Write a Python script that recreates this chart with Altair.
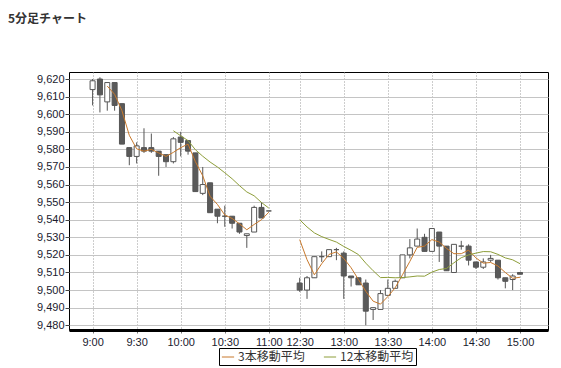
import altair as alt
import pandas as pd

# ---- data (5-minute candles) ----
times = ["9:00", "9:05", "9:10", "9:15", "9:20", "9:25", "9:30", "9:35", "9:40", "9:45",
         "9:50", "9:55", "10:00", "10:05", "10:10", "10:15", "10:20", "10:25", "10:30", "10:35",
         "10:40", "10:45", "10:50", "10:55", "11:00",
         "12:30", "12:35", "12:40", "12:45", "12:50", "12:55", "13:00", "13:05", "13:10", "13:15",
         "13:20", "13:25", "13:30", "13:35", "13:40", "13:45", "13:50", "13:55", "14:00", "14:05",
         "14:10", "14:15", "14:20", "14:25", "14:30", "14:35", "14:40", "14:45", "14:50", "14:55",
         "15:00"]

opens = [9614, 9620, 9607, 9618, 9606, 9581, 9576, 9581, 9581, 9579,
         9577, 9573, 9587, 9585, 9578, 9555, 9561, 9546, 9542, 9542,
         9538, 9531, 9533, 9547, 9545,
         9504, 9500, 9507, 9519, 9519, 9523, 9521, 9508, 9507, 9504,
         9489, 9489, 9497, 9501, 9507, 9520, 9525, 9530, 9522, 9533,
         9525, 9510, 9525, 9525, 9516, 9513, 9517, 9517, 9507, 9506,
         9510]
highs = [9620, 9621, 9618, 9618, 9606, 9581, 9584, 9592, 9589, 9579,
         9577, 9587, 9590, 9585, 9578, 9570, 9561, 9546, 9548, 9542,
         9538, 9532, 9548, 9550, 9545,
         9507, 9508, 9519, 9522, 9523, 9524, 9522, 9508, 9507, 9506,
         9490, 9500, 9506, 9506, 9520, 9529, 9535, 9532, 9535, 9533,
         9525, 9526, 9528, 9526, 9516, 9518, 9520, 9517, 9507, 9509,
         9510]
lows = [9605, 9601, 9602, 9602, 9583, 9571, 9572, 9578, 9578, 9565,
        9570, 9572, 9576, 9577, 9556, 9554, 9544, 9538, 9536, 9535,
        9532, 9524, 9533, 9541, 9545,
        9499, 9495, 9507, 9516, 9519, 9517, 9495, 9502, 9503, 9480,
        9483, 9489, 9497, 9501, 9507, 9518, 9525, 9522, 9522, 9516,
        9511, 9510, 9523, 9514, 9512, 9512, 9516, 9506, 9501, 9500,
        9509]
closes = [9619, 9611, 9618, 9605, 9583, 9576, 9582, 9579, 9579, 9576,
          9573, 9586, 9584, 9579, 9556, 9560, 9544, 9542, 9542, 9538,
          9533, 9532, 9547, 9541, 9545,
          9500, 9507, 9519, 9519, 9523, 9523, 9508, 9507, 9503, 9488,
          9490, 9498, 9501, 9505, 9520, 9524, 9529, 9522, 9535, 9525,
          9511, 9526, 9525, 9517, 9513, 9516, 9518, 9507, 9505, 9508,
          9509]

ma3 = [None, None, 9616.0, 9611.3, 9602.0, 9588.0, 9580.3, 9579.0, 9580.0, 9578.0,
       9576.0, 9578.3, 9581.0, 9583.0, 9573.0, 9565.0, 9553.3, 9548.7, 9542.7, 9540.7,
       9537.7, 9534.3, 9537.3, 9540.0, 9544.3,
       9528.7, 9517.3, 9508.7, 9515.0, 9520.3, 9521.7, 9518.0, 9512.7, 9506.0, 9499.3,
       9493.7, 9492.0, 9496.3, 9501.3, 9508.7, 9516.3, 9524.3, 9525.0, 9528.7, 9527.3,
       9523.7, 9520.7, 9520.7, 9522.7, 9518.3, 9515.3, 9515.7, 9513.7, 9510.0, 9506.7,
       9507.3]
ma12 = [None, None, None, None, None, None, None, None, None, None,
        None, 9590.6, 9587.7, 9585.0, 9579.8, 9576.1, 9572.8, 9570.0, 9566.7, 9563.3,
        9559.4, 9555.8, 9553.6, 9549.8, 9546.6,
        9540.0, 9535.9, 9532.5, 9530.4, 9528.8, 9527.3, 9524.8, 9522.6, 9520.2, 9515.3,
        9511.0, 9507.1, 9507.2, 9507.0, 9507.1, 9507.5, 9508.0, 9507.9, 9510.2, 9511.7,
        9512.3, 9515.5, 9518.4, 9520.0, 9521.0, 9521.9, 9521.8, 9520.3, 9518.3, 9517.2,
        9515.0]

tick_labels = ["9:00", "9:30", "10:00", "10:30", "11:00",
               "12:30", "13:00", "13:30", "14:00", "14:30", "15:00"]
y_ticks = [9480, 9490, 9500, 9510, 9520, 9530, 9540, 9550, 9560, 9570, 9580,
           9590, 9600, 9610, 9620]
series_names = ["3本移動平均", "12本移動平均"]
series_colors = ["#C8792C", "#8E9E3A"]

# ---- layout helpers (x position of each bar on a compressed time axis) ----
N_AM = 25
LUNCH_GAP = 3.2
pos = [i if i < N_AM else i + LUNCH_GAP for i in range(len(times))]
session = ["am" if i < N_AM else "pm" for i in range(len(times))]

candles = pd.DataFrame({
    "pos": pos, "time": times, "open": opens, "high": highs,
    "low": lows, "close": closes,
})

ma_rows = []
for name, vals in zip(series_names, [ma3, ma12]):
    for p, s, v in zip(pos, session, vals):
        if v is not None:
            ma_rows.append({"pos": p, "value": v, "series": name, "session": s})
ma_df = pd.DataFrame(ma_rows)

tick_pos = [pos[times.index(t)] for t in tick_labels]
label_expr = "''"
for p, t in reversed(list(zip(tick_pos, tick_labels))):
    label_expr = f"abs(datum.value - {p}) < 0.01 ? '{t}' : ({label_expr})"

x_scale = alt.Scale(domain=[-2.53, 61.33], nice=False, zero=False)
x_axis = alt.Axis(values=tick_pos, labelExpr=label_expr, title=None,
                  grid=True, gridDash=[1, 2], gridColor="#9a9a9a", gridWidth=1,
                  tickSize=3, tickColor="#777", domainColor="#000", domainWidth=3,
                  labelFontSize=11, labelFont="Liberation Sans", labelColor="#1a1a2e",
                  labelPadding=3, labelFlush=False, labelOverlap=False)
y_scale = alt.Scale(domain=[9477.3, 9624], nice=False, zero=False)
y_axis = alt.Axis(values=y_ticks, format=",d", title=None,
                  grid=True, gridColor="#c4c4c4", gridWidth=1, domain=False,
                  tickSize=4, tickColor="#444", labelFontSize=11,
                  labelFont="Liberation Sans", labelColor="#1a1a2e", labelPadding=1,
                  labelOverlap=False, labelFlush=False)

wicks = alt.Chart(candles).mark_rule(color="#555555", strokeWidth=1).encode(
    x=alt.X("pos:Q", scale=x_scale, axis=x_axis),
    y=alt.Y("low:Q", scale=y_scale, axis=y_axis),
    y2="high:Q",
)
bodies = alt.Chart(candles).mark_bar(size=5, stroke="#555555", strokeWidth=1).encode(
    x=alt.X("pos:Q", scale=x_scale, axis=x_axis),
    y=alt.Y("open:Q", scale=y_scale, axis=y_axis),
    y2="close:Q",
    fill=alt.condition("datum.close >= datum.open", alt.value("#ffffff"), alt.value("#5a5a5a")),
)
lines = alt.Chart(ma_df).mark_line(strokeWidth=1).encode(
    x=alt.X("pos:Q", scale=x_scale, axis=x_axis),
    y=alt.Y("value:Q", scale=y_scale, axis=y_axis),
    color=alt.Color("series:N",
                    scale=alt.Scale(domain=series_names, range=series_colors),
                    legend=alt.Legend(title=None, orient="none", legendX=150, legendY=276,
                                      direction="horizontal", strokeColor="#000",
                                      fillColor="#ffffff", padding=2,
                                      symbolType="stroke", symbolSize=150,
                                      symbolStrokeWidth=1, labelFontSize=12,
                                      labelFont="Noto Sans CJK JP", labelColor="#333",
                                      labelOffset=3, columnPadding=16)),
    detail="session:N",
)

chart = alt.layer(wicks, bodies, lines).properties(
    width=479, height=258,
    autosize=alt.AutoSizeParams(type="none"),
    padding={"left": 69, "top": 72, "right": 13, "bottom": 38},
    background="#ffffff",
    title=alt.TitleParams("5分足チャート", anchor="start", frame="group", dx=-61, offset=46,
                          fontSize=12, font="Noto Sans CJK JP", fontWeight="bold",
                          color="#333333"),
).configure_view(stroke="#000000", strokeWidth=1)

chart.save("out.html", embed_options={"renderer": "svg", "actions": False})
